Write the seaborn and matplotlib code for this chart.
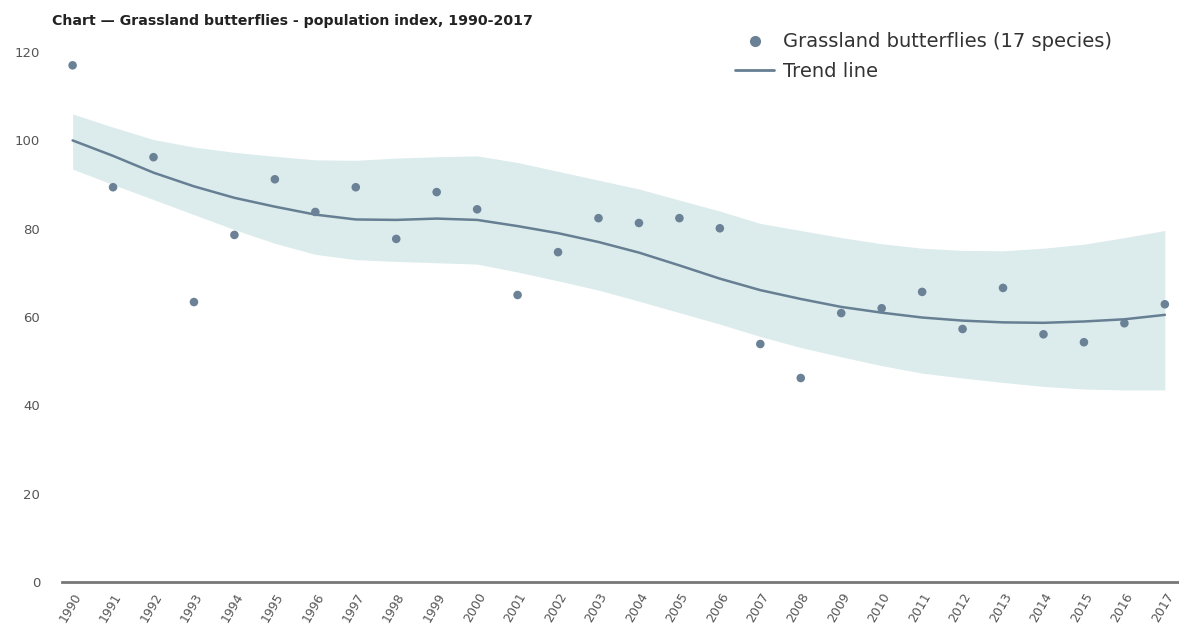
import numpy as np
import pandas as pd
import seaborn as sns
import matplotlib.pyplot as plt
from matplotlib.lines import Line2D

# values
years = list(range(1990, 2018))
index_values = [117.0, 89.4, 96.2, 63.4, 78.6, 91.2, 83.8, 89.4, 77.7, 88.3,
                84.4, 65.0, 74.7, 82.4, 81.3, 82.4, 80.1, 53.9, 46.2, 60.9,
                62.0, 65.7, 57.3, 66.6, 56.1, 54.3, 58.6, 62.9]
trend = [100.0, 96.5, 92.7, 89.6, 87.0, 85.0, 83.2, 82.1, 82.0, 82.3,
         82.0, 80.6, 79.0, 77.0, 74.6, 71.7, 68.7, 66.1, 64.1, 62.3,
         61.0, 59.9, 59.2, 58.8, 58.7, 59.0, 59.5, 60.5]
band_upper = [106.0, 103.0, 100.2, 98.5, 97.3, 96.4, 95.6, 95.5, 96.0, 96.3,
              96.5, 95.0, 93.0, 91.0, 89.0, 86.5, 84.0, 81.2, 79.6, 78.0,
              76.6, 75.6, 75.1, 75.0, 75.6, 76.5, 78.0, 79.6]
band_lower = [93.5, 90.0, 86.6, 83.2, 79.8, 76.7, 74.2, 73.0, 72.6, 72.3,
              72.0, 70.2, 68.2, 66.1, 63.6, 61.0, 58.4, 55.6, 53.1, 51.0,
              49.0, 47.3, 46.2, 45.2, 44.3, 43.7, 43.5, 43.5]
y_ticks = [0, 20, 40, 60, 80, 100, 120]

df = pd.DataFrame({'year': years, 'index': index_values, 'trend': trend,
                   'upper': band_upper, 'lower': band_lower})

sns.set_style('white')
point_col = '#6a8196'
line_col = '#667f93'
band_col = '#dcecec'

fig = plt.figure(figsize=(11.79, 6.32), dpi=100)
ax = fig.add_axes([0.053, 0.079, 0.947, 0.8386])

ax.fill_between(df['year'], df['lower'], df['upper'], color=band_col, lw=0, zorder=1)
sns.lineplot(x='year', y='trend', data=df, ax=ax, color=line_col, lw=1.8, zorder=2)
sns.scatterplot(x='year', y='index', data=df, ax=ax, color=point_col, s=38,
                edgecolor='none', zorder=3)

ax.set_xlim(1989.75, 2017.35)
ax.set_ylim(0, 120)
ax.set_xticks(years)
ax.set_xticklabels([str(y) for y in years], rotation=60, ha='right',
                   rotation_mode='anchor', fontsize=9, color='#555555')
ax.set_yticks(y_ticks)
ax.set_yticklabels([str(v) for v in y_ticks], fontsize=9.5, color='#555555')
ax.tick_params(axis='y', length=0, pad=16)
ax.tick_params(axis='x', length=0, pad=6)
ax.set_xlabel('')
ax.set_ylabel('')
for s in ['top', 'right', 'left']:
    ax.spines[s].set_visible(False)
ax.spines['bottom'].set_color('#777777')
ax.spines['bottom'].set_linewidth(2)

handles = [Line2D([], [], marker='o', ls='', color=point_col, markersize=7),
           Line2D([], [], color=line_col, lw=2)]
ax.legend(handles, ['Grassland butterflies (17 species)', 'Trend line'],
          loc='upper left', bbox_to_anchor=(0.587, 1.07), frameon=False,
          fontsize=14, labelcolor='#333333', handlelength=2.0,
          handletextpad=0.45, labelspacing=0.55)

fig.text(0.044, 0.967, 'Chart \u2014 Grassland butterflies - population index, 1990-2017',
         fontsize=10.2, fontweight='bold', color='#222222', va='center')

plt.savefig('out.png', dpi=100)
